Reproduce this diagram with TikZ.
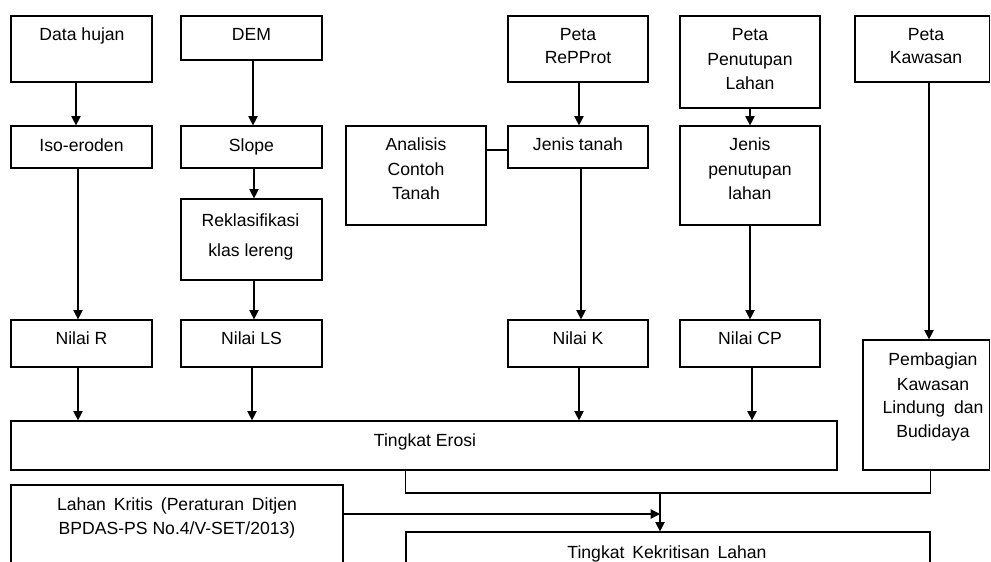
\documentclass[tikz,border=0pt]{standalone}
\usepackage{fontspec}
\setmainfont{Liberation Sans}
\usetikzlibrary{arrows.meta,fit}
\begin{document}
\begin{tikzpicture}[x=0.75pt,y=-0.75pt,
  box/.style={draw, line width=0.9pt, inner sep=0pt, rectangle},
  lbl/.style={anchor=base, inner sep=0pt, font=\fontsize{13.2}{16}\selectfont},
  conn/.style={line width=0.9pt},
  arr/.style={conn, -{Triangle[width=7pt,length=7pt]}}]
\useasboundingbox (0,0) rectangle (991,561);
% boxes
\node[box, fit={(11,16)(152,82)}] (dh) {};
\node[box, fit={(181,16)(322,60)}] (dem) {};
\node[box, fit={(11,126)(152,168)}] (iso) {};
\node[box, fit={(181,126)(322,168)}] (slope) {};
\node[box, fit={(181,199)(322,280)}] (rek) {};
\node[box, fit={(508,16)(648,82)}] (rep) {};
\node[box, fit={(346,126)(486,225)}] (ana) {};
\node[box, fit={(508,126)(648,168)}] (jt) {};
\node[box, fit={(680,16)(820,108)}] (ppl) {};
\node[box, fit={(680,126)(820,225)}] (jpl) {};
\node[box, fit={(855,16)(989.5,82)}] (pk) {};
\node[box, fit={(11,320)(152,367)}] (nr) {};
\node[box, fit={(181,320)(322,367)}] (nls) {};
\node[box, fit={(508,320)(648,367)}] (nk) {};
\node[box, fit={(680,320)(820,367)}] (ncp) {};
\node[box, fit={(863,340)(989.5,470)}] (pb) {};
\node[box, fit={(11,421)(837,470)}] (te) {};
\node[box, fit={(11,485)(343,575)}] (lk) {};
\node[box, fit={(406,532)(930,575)}] (kk) {};
% labels
\node[lbl] (t1) at (82,40) {Data hujan};
\node[lbl] (t2) at (251.5,40) {DEM};
\node[lbl] (t3) at (81.5,151) {Iso-eroden};
\node[lbl] (t4) at (251.5,151) {Slope};
\node[lbl] (t5) at (250.5,226.5) {Reklasifikasi};
\node[lbl] (t6) at (251,256) {klas lereng};
\node[lbl] (t7) at (578,40.7) {Peta};
\node[lbl] (t8) at (578,63.3) {RePProt};
\node[lbl] (t9) at (416,150.7) {Analisis};
\node[lbl] (t10) at (416,175) {Contoh};
\node[lbl] (t11) at (416,199) {Tanah};
\node[lbl] (t12) at (578,150.7) {Jenis tanah};
\node[lbl] (t13) at (750,40.7) {Peta};
\node[lbl] (t14) at (750,65) {Penutupan};
\node[lbl] (t15) at (750,89.3) {Lahan};
\node[lbl] (t16) at (750,150.7) {Jenis};
\node[lbl] (t17) at (750,175) {penutupan};
\node[lbl] (t18) at (750,199) {lahan};
\node[lbl] (t19) at (926,40.7) {Peta};
\node[lbl] (t20) at (926,63.3) {Kawasan};
\node[lbl] (t21) at (81.5,344.3) {Nilai R};
\node[lbl] (t22) at (251.5,344.3) {Nilai LS};
\node[lbl] (t23) at (578,344.3) {Nilai K};
\node[lbl] (t24) at (750,344.3) {Nilai CP};
\node[lbl] (t25) at (933,365.7) {Pembagian};
\node[lbl] (t26) at (933,390) {Kawasan};
\node[lbl] (t27) at (933,413.3) {Lindung\hspace{0.5em}dan};
\node[lbl] (t28) at (933,437.7) {Budidaya};
\node[lbl] (t29) at (425,446.7) {Tingkat Erosi};
\node[lbl] (t30) at (177,510.7) {Lahan\hspace{0.45em}Kritis\hspace{0.45em}(Peraturan\hspace{0.45em}Ditjen};
\node[lbl] (t31) at (177,534.3) {BPDAS-PS No.4/V-SET/2013)};
\node[lbl] (t32) at (667,558.3) {Tingkat\hspace{0.45em}Kekritisan\hspace{0.45em}Lahan};
% x positions of connectors
\coordinate (c1) at (76,0);
\coordinate (c2) at (78,0);
\coordinate (c3) at (253,0);
\coordinate (c4) at (254,0);
\coordinate (c5) at (252,0);
\coordinate (c6) at (579,0);
\coordinate (c7) at (581,0);
\coordinate (c9) at (750,0);
\coordinate (c10) at (752,0);
\coordinate (kx) at (929,0);
\coordinate (jn) at (660,493);
\coordinate (ly) at (0,514);
\coordinate (jy) at (0,150);
% connectors
\draw[arr] (dh.south -| c1) -- (iso.north -| c1);
\draw[arr] (iso.south -| c2) -- (nr.north -| c2);
\draw[arr] (dem.south -| c3) -- (slope.north -| c3);
\draw[arr] (slope.south -| c4) -- (rek.north -| c4);
\draw[arr] (rek.south -| c4) -- (nls.north -| c4);
\draw[arr] (rep.south -| c6) -- (jt.north -| c6);
\draw[conn] (ana.east |- jy) -- (jt.west |- jy);
\draw[arr] (jt.south -| c7) -- (nk.north -| c7);
\draw[arr] (ppl.south -| c9) -- (jpl.north -| c9);
\draw[arr] (jpl.south -| c9) -- (ncp.north -| c9);
\draw[arr] (pk.south -| kx) -- (pb.north -| kx);
\draw[arr] (nr.south -| c2) -- (te.north -| c2);
\draw[arr] (nls.south -| c5) -- (te.north -| c5);
\draw[arr] (nk.south -| c6) -- (te.north -| c6);
\draw[arr] (ncp.south -| c10) -- (te.north -| c10);
\draw[conn] (te.south -| kk.west) |- (jn -| kk.east) -- (pb.south -| kk.east);
\draw[arr] (jn) -- (kk.north -| jn);
\draw[arr] (lk.east |- ly) -- (jn |- ly);
\end{tikzpicture}
\end{document}
